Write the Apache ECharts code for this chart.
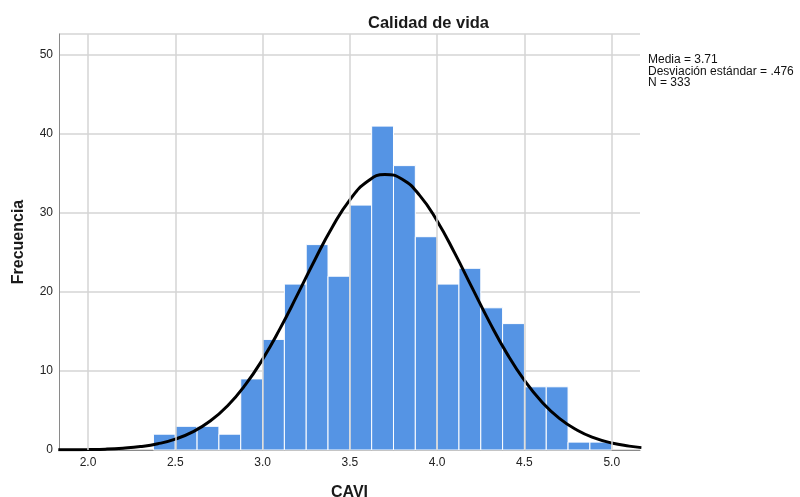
<!DOCTYPE html>
<html>
<head>
<meta charset="utf-8">
<script src="https://cdn.jsdelivr.net/npm/echarts@6/dist/echarts.min.js"></script>
<style>
html,body{margin:0;padding:0;background:#fff;}
#chart{width:800px;height:497px;}
</style>
</head>
<body>
<div id="chart"></div>
<script>
// Histogram bins (CAVI), bin width 0.125
const binStarts = [2.375, 2.5, 2.625, 2.75, 2.875, 3.0, 3.125, 3.25, 3.375, 3.5, 3.625, 3.75, 3.875, 4.0, 4.125, 4.25, 4.375, 4.5, 4.625, 4.75, 4.875];
const binWidth = 0.125;
const counts = [2, 3, 3, 2, 9, 14, 21, 26, 22, 31, 41, 36, 27, 21, 23, 18, 16, 8, 8, 1, 1];

// Normal curve (x, frequency)
const curveX = [1.83, 1.9, 2.0, 2.1, 2.2, 2.3, 2.4, 2.5, 2.6, 2.7, 2.8, 2.9, 3.0, 3.1, 3.2, 3.3, 3.4, 3.5, 3.6, 3.7, 3.8, 3.9, 4.0, 4.1, 4.2, 4.3, 4.4, 4.5, 4.6, 4.7, 4.8, 4.9, 5.0, 5.1, 5.17];
const curveY = [0.02, 0.03, 0.06, 0.11, 0.23, 0.43, 0.79, 1.38, 2.30, 3.67, 5.61, 8.21, 11.47, 15.36, 19.66, 24.09, 28.23, 31.67, 33.98, 34.89, 34.28, 32.23, 28.99, 24.95, 20.55, 16.19, 12.20, 8.81, 6.08, 4.01, 2.54, 1.53, 0.89, 0.49, 0.30];

const xTicks = [2.0, 2.5, 3.0, 3.5, 4.0, 4.5, 5.0];
const statsLines = ['Media = 3.71', 'Desviación estándar = .476', 'N = 333'];

const titleText = 'Calidad de vida';
const xName = 'CAVI';
const yName = 'Frecuencia';

const FONT = '"Liberation Sans", Arial, sans-serif';

const chart = echarts.init(document.getElementById('chart'), null, {renderer: 'canvas'});

const barData = binStarts.map((s, i) => [s, s + binWidth, counts[i]]);
const curveData = curveX.map((x, i) => [x, curveY[i]]);

chart.setOption({
  backgroundColor: '#ffffff',
  animation: false,
  title: {
    text: titleText,
    left: 363,
    top: 10,
    textStyle: {fontFamily: FONT, fontWeight: 'bold', fontSize: 16.5, color: '#1a1a1a'}
  },
  graphic: [{
    type: 'text',
    left: 648,
    top: 54,
    style: {
      text: statsLines.join('\n'),
      font: '12px ' + FONT,
      lineHeight: 11.5,
      fill: '#111'
    }
  }],
  grid: {left: 59, right: 160, top: 34, bottom: 47, containLabel: false, outerBoundsMode: 'none'},
  xAxis: {
    type: 'value',
    min: 1.834,
    max: 5.162,
    name: xName,
    nameLocation: 'middle',
    nameGap: 35,
    nameTextStyle: {fontFamily: FONT, fontWeight: 'bold', fontSize: 16, color: '#1a1a1a'},
    axisLine: {show: true, lineStyle: {color: '#8a8a8a', width: 1}},
    axisTick: {show: false, customValues: xTicks},
    axisLabel: {
      customValues: xTicks,
      formatter: v => v.toFixed(1),
      fontFamily: FONT, fontSize: 12, color: '#222', margin: 7
    },
    splitLine: {show: false}
  },
  yAxis: {
    type: 'value',
    min: 0,
    max: 52.66,
    interval: 10,
    name: yName,
    nameLocation: 'middle',
    nameGap: 32,
    nameTextStyle: {fontFamily: FONT, fontWeight: 'bold', fontSize: 16, color: '#1a1a1a'},
    axisLine: {show: true, lineStyle: {color: '#8a8a8a', width: 1}},
    axisTick: {show: false},
    axisLabel: {
      fontFamily: FONT, fontSize: 12, color: '#222', margin: 6,
      showMaxLabel: false
    },
    splitLine: {show: true, lineStyle: {color: '#d4d4d4', width: 1.5}}
  },
  series: [
    {
      // vertical grid lines at tick positions
      type: 'line',
      data: [],
      silent: true,
      z: 1,
      markLine: {
        silent: true,
        symbol: ['none', 'none'],
        label: {show: false},
        lineStyle: {color: '#d4d4d4', width: 1.5, type: 'solid'},
        data: xTicks.map(v => ({xAxis: v}))
      }
    },
    {
      type: 'custom',
      z: 2,
      renderItem: function (params, api) {
        const p0 = api.coord([api.value(0), api.value(2)]);
        const p1 = api.coord([api.value(1), 0]);
        return {
          type: 'rect',
          shape: {x: p0[0], y: p0[1], width: p1[0] - p0[0], height: p1[1] - p0[1]},
          style: {fill: '#5594e4', stroke: '#ffffff', lineWidth: 1}
        };
      },
      encode: {x: [0, 1], y: 2},
      data: barData
    },
    {
      type: 'line',
      z: 3,
      data: curveData,
      smooth: true,
      showSymbol: false,
      clip: true,
      lineStyle: {color: '#000', width: 3}
    }
  ]
});
</script>
</body>
</html>
